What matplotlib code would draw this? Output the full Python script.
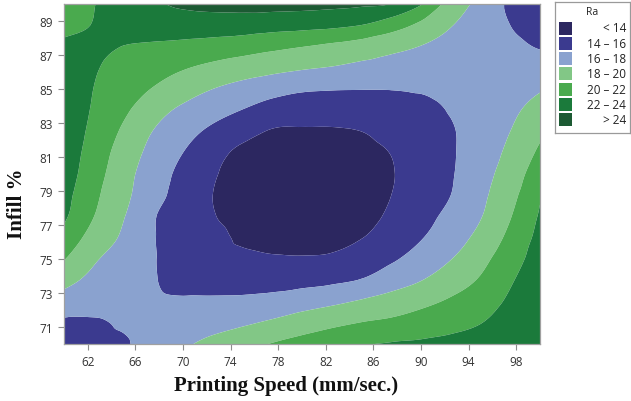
import numpy as np
import matplotlib
matplotlib.use("Agg")
import matplotlib.pyplot as plt
import matplotlib.tri as mtri
from matplotlib.patches import Rectangle

# ---------------- data ----------------
speed = [60, 62.5, 65, 67.5, 70, 72.5, 75, 77.5, 80, 82.5, 85, 87.5, 90, 92.5, 95, 97.5, 100]
infill = [70, 71.25, 72.5, 73.75, 75, 76.25, 77.5, 78.75, 80, 81.25, 82.5, 83.75, 85, 86.25, 87.5, 88.75, 90]

# Ra values, one row per infill value (bottom to top), columns follow speed
ra = [
    [15.2, 15.55, 15.85, 16.7, 17.7, 18.55, 19.35, 20.1, 20.7, 21.3, 21.85, 22.15, 22.3, 22.5, 22.75, 23.1, 23.5],
    [15.75, 15.85, 16.15, 16.5, 17.0, 17.3, 17.72, 18.3, 19.0, 19.55, 20.05, 20.4, 20.9, 21.4, 21.95, 22.8, 23.35],
    [17.1, 16.6, 16.4, 16.2, 16.2, 16.25, 16.35, 16.6, 17.1, 17.6, 18.2, 18.8, 19.5, 20.25, 21.05, 22.3, 23.25],
    [18.65, 17.5, 16.8, 16.1, 15.5, 15.4, 15.3, 15.3, 15.4, 15.65, 16.1, 17.1, 17.95, 19.1, 20.2, 21.8, 23.1],
    [20.1, 18.25, 17.15, 16.1, 15.25, 14.6, 14.4, 14.2, 14.15, 14.3, 15.15, 15.75, 16.8, 17.95, 19.4, 21.2, 22.8],
    [21.3, 19.25, 17.7, 16.1, 15.25, 14.5, 13.75, 13.45, 13.4, 13.45, 13.95, 14.95, 15.9, 17.15, 18.55, 20.5, 22.55],
    [22.3, 20.02, 18.1, 16.15, 15.1, 14.1, 13.4, 13.0, 12.9, 12.95, 13.3, 14.35, 15.4, 16.5, 17.9, 19.9, 22.2],
    [22.65, 20.45, 18.5, 16.7, 15.25, 14.0, 13.3, 12.85, 12.7, 12.8, 13.2, 14.0, 15.0, 16.0, 17.55, 19.4, 21.8],
    [23.0, 20.85, 18.75, 16.95, 15.5, 14.2, 13.3, 12.9, 12.8, 12.85, 13.2, 13.9, 14.8, 15.85, 17.2, 19.0, 21.05],
    [23.2, 21.15, 19.15, 17.4, 16.0, 14.7, 13.55, 13.2, 13.15, 13.2, 13.45, 14.05, 14.9, 15.8, 17.0, 18.45, 20.35],
    [23.3, 21.5, 19.7, 17.95, 16.7, 15.6, 14.7, 13.85, 13.8, 13.8, 14.0, 14.6, 15.25, 15.85, 16.85, 18.0, 19.6],
    [23.3, 21.8, 20.35, 18.8, 17.6, 16.75, 15.95, 15.2, 14.9, 14.9, 15.0, 15.4, 15.6, 16.1, 16.85, 17.65, 18.7],
    [23.2, 21.98, 20.95, 19.9, 18.95, 18.0, 17.3, 16.7, 16.25, 16.1, 16.05, 16.05, 16.15, 16.4, 16.8, 17.3, 17.85],
    [22.9, 22.15, 21.45, 20.85, 20.15, 19.55, 19.05, 18.6, 18.2, 17.9, 17.55, 17.25, 17.05, 17.0, 16.8, 16.8, 16.75],
    [22.25, 22.4, 21.97, 21.75, 21.5, 21.2, 20.85, 20.45, 20.05, 19.6, 19.1, 18.55, 17.95, 17.4, 16.85, 16.35, 15.9],
    [21.7, 22.05, 22.55, 22.9, 23.05, 23.05, 23.0, 22.75, 22.6, 22.4, 21.97, 20.9, 19.55, 18.1, 17.05, 16.0, 15.3],
    [21.4, 21.95, 23.0, 23.75, 24.3, 24.55, 24.65, 24.7, 24.65, 24.5, 24.3, 23.95, 22.15, 19.2, 17.45, 15.7, 14.6],
]

levels = [0, 14, 16, 18, 20, 22, 24, 40]
legend_labels = ["< 14", "14 \u2013 16", "16 \u2013 18", "18 \u2013 20", "20 \u2013 22", "22 \u2013 24", "> 24"]
x_ticks = [62, 66, 70, 74, 78, 82, 86, 90, 94, 98]
y_ticks = [71, 73, 75, 77, 79, 81, 83, 85, 87, 89]

colors = ["#2c2760", "#3b3a8f", "#8aa2cf", "#82c786", "#4aaa4e", "#1b7a3b", "#1c5a33"]

# ---------------- figure ----------------
W, H = 631, 402
fig = plt.figure(figsize=(W / 100, H / 100), dpi=100)
fig.patch.set_facecolor("white")

ax = fig.add_axes([64 / W, 1 - 345 / H, 476 / W, 340 / H])

# regular grid -> explicit triangulation, smoothed with matplotlib's own refiner
X, Y = np.meshgrid(speed, infill)
Z = np.array(ra)
ny, nx = Z.shape
tris = []
for j in range(ny - 1):
    for i in range(nx - 1):
        a = j * nx + i
        b = a + 1
        c = a + nx
        d = c + 1
        tris.append([a, b, d])
        tris.append([a, d, c])
triang = mtri.Triangulation(X.ravel(), Y.ravel(), triangles=np.array(tris))
interp = mtri.CubicTriInterpolator(triang, Z.ravel(), kind="geom")
refiner = mtri.UniformTriRefiner(triang)
tri_ref, z_ref = refiner.refine_field(Z.ravel(), triinterpolator=interp, subdiv=3)
ax.tricontourf(tri_ref, z_ref, levels=levels, colors=colors, antialiased=True)

ax.set_xlim(60, 100)
ax.set_ylim(70, 90)
ax.set_xticks(x_ticks)
ax.set_yticks(y_ticks)
for sp in ax.spines.values():
    sp.set_color("#a0a0a0")
    sp.set_linewidth(0.9)
ax.tick_params(direction="out", length=4, width=0.8, color="#8c8c8c",
               labelsize=8.5, labelcolor="#333333", pad=4)
for lab in ax.get_xticklabels() + ax.get_yticklabels():
    lab.set_family("Open Sans")

fig.text(286 / W, 1 - 386 / H, "Printing Speed (mm/sec.)", ha="center", va="center",
         family="Liberation Serif", weight="bold", size=15, color="#111111")
fig.text(17 / W, 1 - 204 / H, "Infill %", ha="center", va="center", rotation=90,
         family="Liberation Serif", weight="bold", size=15, color="#111111")

# ---------------- legend ----------------
lx0, lx1, ly0, ly1 = 555, 630, 3, 134
lax = fig.add_axes([lx0 / W, 1 - ly1 / H, (lx1 - lx0) / W, (ly1 - ly0) / H])
lax.set_xlim(lx0, lx1)
lax.set_ylim(ly1, ly0)
lax.set_xticks([])
lax.set_yticks([])
for sp in lax.spines.values():
    sp.set_color("#9a9a9a")
    sp.set_linewidth(0.9)
lax.text(592, 13, "Ra", ha="center", va="center", size=7.5, family="Open Sans", color="#222222")
for i, (lab, col) in enumerate(zip(legend_labels, colors)):
    yc = 29 + i * 15.3
    lax.add_patch(Rectangle((559, yc - 6.5), 13, 13, facecolor=col, edgecolor="none"))
    lax.text(626, yc, lab, ha="right", va="center", size=8.5, family="Open Sans", color="#222222")

fig.savefig("out.png", dpi=100)
